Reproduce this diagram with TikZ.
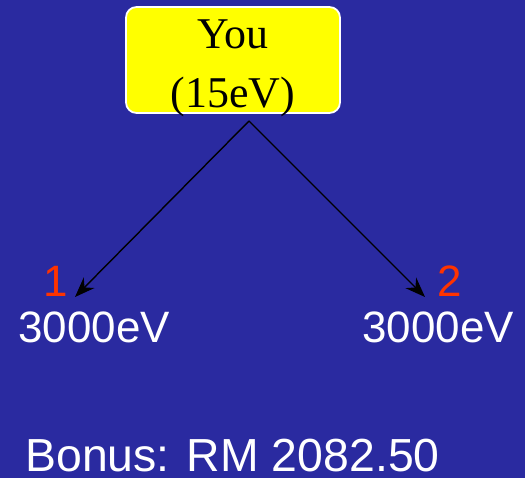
\documentclass[tikz,border=0pt]{standalone}
\usepackage{fontspec}
\setmainfont{Liberation Serif}
\setsansfont{Liberation Sans}
\usepackage{xcolor}
\usetikzlibrary{arrows.meta,positioning,calc}
\definecolor{slidebg}{RGB}{42,42,160}
\definecolor{youbox}{RGB}{255,255,0}
\definecolor{numc}{RGB}{255,51,0}

\begin{document}
\begin{tikzpicture}[
  youbox/.style={draw=white, line width=1pt, rounded corners=6pt, fill=youbox,
    minimum width=4.28cm, minimum height=2.12cm, inner sep=0pt},
  youtext/.style={align=center, inner sep=0pt, font=\fontsize{25}{33.5}\selectfont},
  energy/.style={anchor=base west, inner sep=0pt, text=white, font=\sffamily\fontsize{25}{30}\selectfont},
  num/.style={anchor=base west, inner sep=0pt, text=numc, font=\sffamily\fontsize{25}{30}\selectfont},
  arr/.style={-{Stealth[length=4mm,width=3mm]}, line width=0.8pt}]
  \fill[slidebg] (0,0) rectangle (10.5,-9.56);
  \useasboundingbox (0,0) rectangle (10.5,-9.56);
  \node[youbox] (me) at (4.66,-1.2) {};
  \node[youtext] (metext) at ($(me.center)+(0,-0.16)$) {You\\(15eV)};
  \coordinate (split) at (4.98,-2.42);
  \coordinate (t1) at (1.5,-5.94);
  \coordinate (t2) at (8.5,-5.94);
  \node[num] (n1) at (0.86,-5.94) {1};
  \node[energy] (e1) at (0.36,-6.86) {3000eV};
  \node[num] (n2) at (8.74,-5.94) {2};
  \node[energy] (e2) at (7.24,-6.86) {3000eV};
  \node[energy, text depth=0pt, font=\sffamily\fontsize{26.4}{30}\selectfont] (bonus) at (0.5,-9.43) {Bonus: RM 2082.50};
  \draw[arr] (split) -- (t1); \draw[arr] (split) -- (t2);
\end{tikzpicture}
\end{document}
